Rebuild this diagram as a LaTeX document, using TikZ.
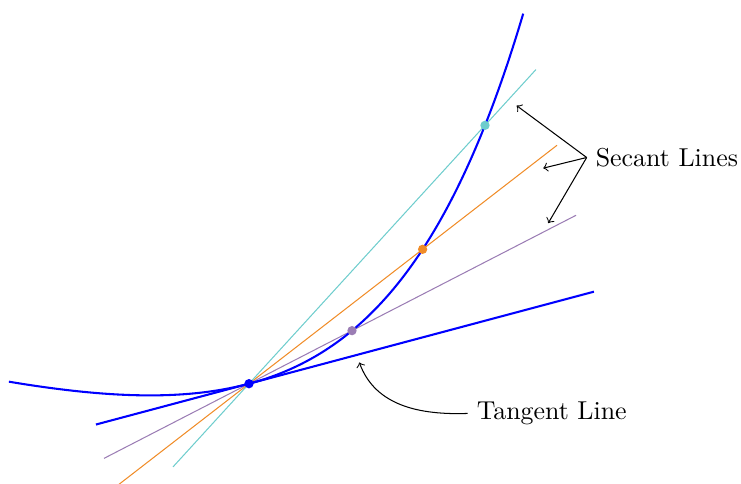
\documentclass[tikz,border=0pt]{standalone}
\usepackage{xcolor}
\usepackage{tikz}
\usetikzlibrary{calc}

\definecolor{secpurple}{RGB}{155,125,180}
\definecolor{secorange}{RGB}{240,140,40}
\definecolor{seccyan}{RGB}{110,205,205}

\begin{document}
\begin{tikzpicture}[
  x=1.94cm, y=1.035cm, >=to,
  curve/.style={blue, thick},
  secant/.style={thin},
  dot/.style={circle, fill, inner sep=0pt, minimum size=3.6pt},
  note/.style={->, black}
]
  \useasboundingbox (-1.7425,-1.3106) rectangle (3.443,5.0328);
  % points on the curve
  \coordinate (P) at (0,0);
  \coordinate (S1) at (0.7208,0.6958);
  \coordinate (S2) at (1.215,1.7628);
  \coordinate (S3) at (1.6515,3.3889);
  % secant lines through P
  \draw[secant, secpurple] ($(P)!-1.408!(S1)$) -- ($(P)!3.175!(S1)$);
  \draw[secant, secorange] ($(P)!-0.755!(S2)$) -- ($(P)!1.774!(S2)$);
  \draw[secant, seccyan] ($(P)!-0.322!(S3)$) -- ($(P)!1.216!(S3)$);
  % curve and tangent line
  \draw[curve, domain=-1.68:1.92, samples=120, smooth] plot (\x, {exp(\x)-1-\x/2});
  \coordinate (T0) at (-1.071,-0.5355);
  \coordinate (T1) at (2.414,1.207);
  \draw[curve] (T0) -- (T1);
  % dots
  \node[dot, blue] (p) at (P) {};
  \node[dot, secpurple] (s1) at (S1) {};
  \node[dot, secorange] (s2) at (S2) {};
  \node[dot, seccyan] (s3) at (S3) {};
  % labels
  \node[anchor=west] (seclab) at (2.363,2.967) {Secant Lines};
  \coordinate (a1) at (1.873,3.647);
  \coordinate (a2) at (2.059,2.827);
  \coordinate (a3) at (2.094,2.106);
  \draw[note] (seclab.west) -- (a1);
  \draw[note] (seclab.west) -- (a2);
  \draw[note] (seclab.west) -- (a3);
  \node[anchor=west] (tanlab) at (1.53,-0.39) {Tangent Line};
  \coordinate (a4) at (0.772,0.279);
  \draw[note] (tanlab.west) to[out=182, in=-70] (a4);
\end{tikzpicture}
\end{document}
